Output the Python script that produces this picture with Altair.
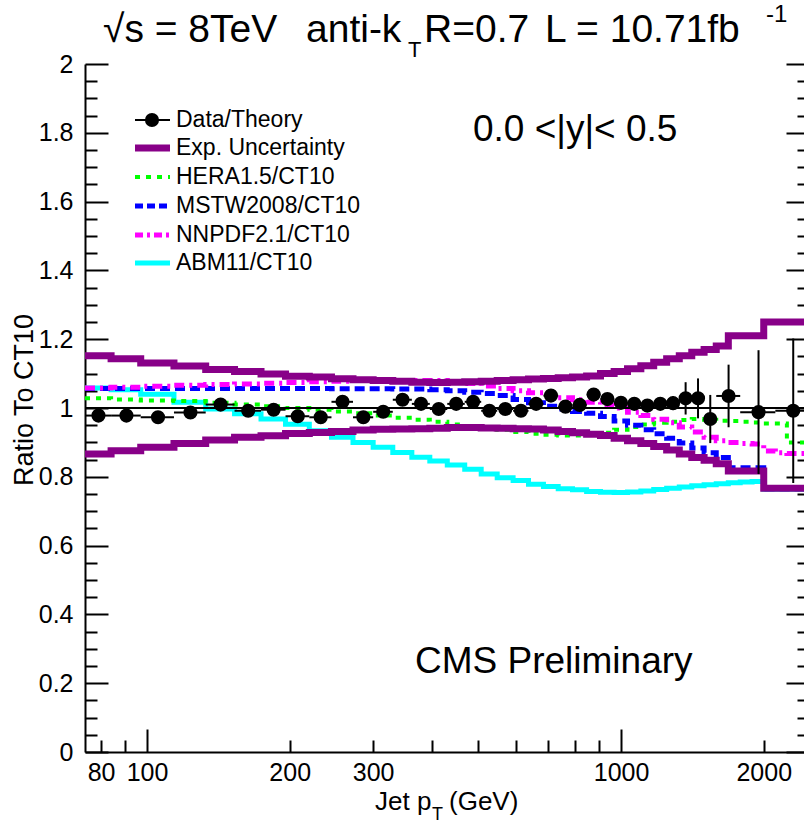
import altair as alt
import pandas as pd

# ---------------- data ----------------
edges = [74, 84, 97, 114, 133, 153, 174, 196, 220, 245, 272, 300, 330, 362, 395,
         430, 468, 507, 548, 592, 638, 686, 737, 790, 846, 905, 967, 1032, 1101,
         1172, 1248, 1327, 1410, 1497, 1588, 1684, 1784, 1890, 2000, 2116, 2238,
         2366, 2500]

exp_up = [1.152, 1.143, 1.131, 1.122, 1.112, 1.106, 1.099, 1.092, 1.090, 1.085,
          1.082, 1.080, 1.078, 1.075, 1.074, 1.075, 1.076, 1.078, 1.080, 1.082,
          1.084, 1.086, 1.088, 1.090, 1.093, 1.100, 1.106, 1.114, 1.123, 1.133,
          1.143, 1.152, 1.162, 1.170, 1.180, 1.210, 1.210, 1.210, 1.250, 1.250,
          1.250, 1.250]
exp_lo = [0.866, 0.876, 0.886, 0.897, 0.907, 0.915, 0.919, 0.926, 0.929, 0.932,
          0.936, 0.938, 0.939, 0.940, 0.941, 0.943, 0.943, 0.942, 0.941, 0.940,
          0.939, 0.936, 0.932, 0.928, 0.924, 0.920, 0.912, 0.905, 0.897, 0.888,
          0.878, 0.866, 0.856, 0.848, 0.838, 0.817, 0.817, 0.817, 0.767, 0.767,
          0.767, 0.767]
hera = [1.028, 1.025, 1.022, 1.020, 1.015, 1.010, 1.005, 1.000, 0.995, 0.990,
        0.985, 0.978, 0.972, 0.966, 0.960, 0.952, 0.947, 0.940, 0.937, 0.930,
        0.925, 0.922, 0.920, 0.920, 0.922, 0.928, 0.937, 0.945, 0.952, 0.957,
        0.960, 0.965, 0.968, 0.966, 0.963, 0.962, 0.960, 0.958, 0.955, 0.955,
        0.900, 0.900]
mstw = [1.057, 1.057, 1.057, 1.057, 1.057, 1.057, 1.057, 1.057, 1.057, 1.056,
        1.056, 1.056, 1.055, 1.055, 1.053, 1.050, 1.046, 1.042, 1.036, 1.025,
        1.015, 1.005, 0.997, 0.990, 0.985, 0.975, 0.962, 0.950, 0.937, 0.925,
        0.912, 0.898, 0.884, 0.870, 0.856, 0.826, 0.826, 0.826, 0.765, 0.765,
        0.765, 0.765]
nnpdf = [1.058, 1.060, 1.063, 1.066, 1.068, 1.070, 1.072, 1.074, 1.076, 1.078,
         1.080, 1.080, 1.080, 1.080, 1.080, 1.077, 1.071, 1.064, 1.057, 1.050,
         1.044, 1.038, 1.030, 1.024, 1.017, 1.008, 1.000, 0.988, 0.978, 0.967,
         0.957, 0.945, 0.930, 0.915, 0.905, 0.900, 0.897, 0.895, 0.875, 0.870,
         0.868, 0.868]
abm = [1.058, 1.053, 1.040, 1.017, 0.997, 0.983, 0.968, 0.953, 0.934, 0.915,
       0.900, 0.886, 0.871, 0.857, 0.846, 0.834, 0.822, 0.808, 0.797, 0.789,
       0.778, 0.772, 0.765, 0.762, 0.757, 0.755, 0.754, 0.756, 0.759, 0.763,
       0.767, 0.770, 0.774, 0.777, 0.780, 0.783, 0.785, 0.786, 0.764, 0.764,
       0.764, 0.764]

data_edges = [74, 84, 97, 114, 133, 153, 174, 196, 220, 245, 272, 300, 330, 362,
              395, 430, 468, 507, 548, 592, 638, 686, 737, 790, 846, 905, 967,
              1032, 1101, 1172, 1248, 1327, 1410, 1497, 1588, 1784, 2116, 2500]
data_ratio = [0.978, 0.978, 0.973, 0.987, 1.010, 0.992, 0.995, 0.976, 0.973, 1.018,
              0.973, 0.989, 1.024, 1.012, 0.997, 1.012, 1.018, 0.992, 0.997, 0.992,
              1.012, 1.036, 1.004, 1.009, 1.039, 1.026, 1.015, 1.012, 1.007, 1.012,
              1.014, 1.028, 1.028, 0.968, 1.035, 0.988, 0.992]
data_err = [0.005] * 24 + [0.006, 0.007, 0.008, 0.009, 0.010, 0.012, 0.020,
                           0.047, 0.058, 0.070, 0.091, 0.180, 0.210]

y_major = [0, 0.2, 0.4, 0.6, 0.8, 1, 1.2, 1.4, 1.6, 1.8, 2]
y_minor = [0.05, 0.1, 0.15, 0.25, 0.3, 0.35, 0.45, 0.5, 0.55, 0.65, 0.7, 0.75,
           0.85, 0.9, 0.95, 1.05, 1.1, 1.15, 1.25, 1.3, 1.35, 1.45, 1.5, 1.55,
           1.65, 1.7, 1.75, 1.85, 1.9, 1.95]
x_labels = [80, 100, 200, 300, 1000, 2000]
x_major = [100, 1000]
x_minor = [80, 90, 200, 300, 400, 500, 600, 700, 800, 900, 2000]

# ---------------- layout ----------------
FONT = "Liberation Sans"
W, H = 719, 688
xscale = alt.Scale(type="log", domain=[74, 2432], nice=False)
yscale = alt.Scale(domain=[0, 2], nice=False, zero=False)


def tick_axis(orient, offset, values, size):
    return alt.Axis(orient=orient, offset=offset, values=values, ticks=True,
                    tickSize=size, tickWidth=2, tickColor="black", labels=False,
                    domain=False, grid=False, title=None)


no_axis = None


def step_df(vals):
    return pd.DataFrame({"pt": edges, "r": vals + [vals[-1]]})


def step_layer(vals, color, width, dash=None, xaxis=no_axis, yaxis=no_axis):
    kw = dict(interpolate="step-after", color=color, strokeWidth=width, clip=True)
    if dash:
        kw["strokeDash"] = dash
    return alt.Chart(step_df(vals)).mark_line(**kw).encode(
        x=alt.X("pt:Q", scale=xscale, axis=xaxis),
        y=alt.Y("r:Q", scale=yscale, axis=yaxis),
    )


layers = []

# reference line at 1 carrying the labelled y axis
ref = pd.DataFrame({"r": [1.0]})
layers.append(
    alt.Chart(ref).mark_rule(color="black", strokeWidth=2).encode(
        y=alt.Y("r:Q", scale=yscale,
                axis=alt.Axis(orient="left", values=y_major, format="~g",
                              labelFont=FONT, labelFontSize=25, labelColor="black",
                              ticks=False, tickSize=0, labelPadding=12,
                              domain=True, domainColor="black", domainWidth=2,
                              grid=False, title=None)),
    )
)

# x axis line with labels (invisible data layer)
layers.append(
    alt.Chart(step_df(exp_up)).mark_line(opacity=0).encode(
        x=alt.X("pt:Q", scale=xscale,
                axis=alt.Axis(orient="bottom", values=x_labels, format="d",
                              labelFont=FONT, labelFontSize=25, labelColor="black",
                              ticks=False, tickSize=0, labelPadding=8,
                              labelFlush=False, labelOverlap=False,
                              domain=True, domainColor="black", domainWidth=2,
                              grid=False, title=None)),
        y=alt.Y("r:Q", scale=yscale, axis=None),
    )
)

# theory / uncertainty curves, also carrying the inward tick axes
layers.append(step_layer(abm, "#00FFFF", 5,
                         xaxis=tick_axis("top", -H, x_major, 23),
                         yaxis=tick_axis("right", -W, y_major, 23)))
layers.append(step_layer(hera, "#00FF00", 4, dash=[5, 6],
                         xaxis=tick_axis("top", -H, x_minor, 12),
                         yaxis=tick_axis("right", -W, y_minor, 12)))
layers.append(step_layer(mstw, "#0000FF", 5, dash=[10, 5],
                         yaxis=tick_axis("left", -(W + 5), y_major, 23)))
layers.append(step_layer(nnpdf, "#FF00FF", 5, dash=[10, 5, 3, 5],
                         yaxis=tick_axis("left", -(W + 5), y_minor, 12)))
layers.append(step_layer(exp_up, "#880088", 7))
layers.append(step_layer(exp_lo, "#880088", 7))

# reference line drawn again on top of the curves
layers.append(alt.Chart(ref).mark_rule(color="black", strokeWidth=2).encode(
    y=alt.Y("r:Q", scale=yscale, axis=None)))

# data points
pts = pd.DataFrame({
    "lo": data_edges[:-1],
    "hi": data_edges[1:],
    "r": data_ratio,
    "e": data_err,
})
pts["c"] = (pts["lo"] + pts["hi"]) / 2
pts["rlo"] = pts["r"] - pts["e"]
pts["rhi"] = pts["r"] + pts["e"]

base = alt.Chart(pts)
layers.append(base.mark_rule(color="black", strokeWidth=2, clip=True).encode(
    x=alt.X("lo:Q", scale=xscale, axis=None), x2="hi:Q",
    y=alt.Y("r:Q", scale=yscale, axis=None)))
layers.append(base.mark_rule(color="black", strokeWidth=2, clip=True).encode(
    x=alt.X("c:Q", scale=xscale, axis=None),
    y=alt.Y("rlo:Q", scale=yscale, axis=None), y2="rhi:Q"))
layers.append(base.mark_circle(color="black", size=200, opacity=1).encode(
    x=alt.X("c:Q", scale=xscale, axis=None),
    y=alt.Y("r:Q", scale=yscale, axis=None)))


# ---------------- text ----------------
def label(txt, x, y, size, align="left", baseline="alphabetic", angle=0):
    return alt.Chart(pd.DataFrame({"t": [txt]})).mark_text(
        font=FONT, fontSize=size, align=align, baseline=baseline, angle=angle,
        color="black").encode(x=alt.value(x), y=alt.value(y), text="t:N")


OX, OY = 85, 64  # plot origin in page pixels (for readability of positions)

layers += [
    label("√s = 8TeV", 103 - OX, 42 - OY, 39),
    label("anti-k", 306 - OX, 42 - OY, 39),
    label("T", 408 - OX, 57 - OY, 22),
    label("R=0.7", 424 - OX, 42 - OY, 39),
    label("L = 10.71fb", 545 - OX, 42 - OY, 39),
    label("-1", 766 - OX, 22 - OY, 24),
    label("0.0 <|y|< 0.5", 473 - OX, 141 - OY, 37),
    label("CMS Preliminary", 415 - OX, 673 - OY, 37),
    label("Ratio To CT10", 25 - OX, 400 - OY, 27, align="center",
          baseline="middle", angle=270),
    label("Jet p", 375 - OX, 810 - OY, 26),
    label("T", 432 - OX, 820 - OY, 18),
    label("(GeV)", 449 - OX, 810 - OY, 26),
]

# ---------------- legend ----------------
leg_names = ["Data/Theory", "Exp. Uncertainty", "HERA1.5/CT10", "MSTW2008/CT10",
             "NNPDF2.1/CT10", "ABM11/CT10"]
leg_rows = [120, 148, 177, 206, 235, 263]
leg_style = [
    ("black", 2, None),
    ("#880088", 7, None),
    ("#00FF00", 4, [5, 6]),
    ("#0000FF", 5, [8, 4]),
    ("#FF00FF", 5, [8, 4, 3, 4]),
    ("#00FFFF", 5, None),
]
one = pd.DataFrame({"k": [0]})
for name, row, (col, wdt, dash) in zip(leg_names, leg_rows, leg_style):
    kw = dict(color=col, strokeWidth=wdt)
    if dash:
        kw["strokeDash"] = dash
    layers.append(alt.Chart(one).mark_rule(**kw).encode(
        x=alt.value(135 - OX), x2=alt.value(170 - OX), y=alt.value(row - OY)))
    layers.append(label(name, 176 - OX, row - OY, 23, baseline="middle"))
layers.append(alt.Chart(one).mark_circle(color="black", size=200, opacity=1).encode(
    x=alt.value(152 - OX), y=alt.value(120 - OY)))

chart = alt.layer(*layers).properties(
    width=W, height=H,
    padding={"left": OX, "top": OY, "right": 0, "bottom": 826 - OY - H},
    autosize=alt.AutoSizeParams(type="none"),
    background="white",
).resolve_axis(x="independent", y="independent").configure_view(stroke=None)

chart.save("out.html", embed_options={"renderer": "svg", "actions": False})
